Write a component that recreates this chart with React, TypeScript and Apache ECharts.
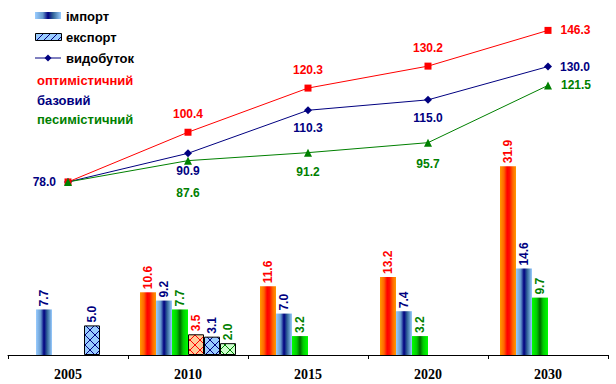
import React, { useEffect, useRef } from "react";
import * as echarts from "echarts";

const categories = ["2005", "2010", "2015", "2020", "2030"];

// Import (bars)
const importOpt = [null, 10.6, 11.6, 13.2, 31.9];
const importBase = [7.7, 9.2, 7.0, 7.4, 14.6];
const importPess = [null, 7.7, 3.2, 3.2, 9.7];
// Export (bars)
const exportOpt = [null, 3.5, null, null, null];
const exportBase = [5.0, 3.1, null, null, null];
const exportPess = [null, 2.0, null, null, null];
// Production (lines)
const prodOpt = [78.0, 100.4, 120.3, 130.2, 146.3];
const prodBase = [78.0, 90.9, 110.3, 115.0, 130.0];
const prodPess = [78.0, 87.6, 91.2, 95.7, 121.5];

const legendItems = ["імпорт", "експорт", "видобуток"];
const scenarioNames = ["оптимістичний", "базовий", "песимістичний"];

const RED = "#FF0000";
const NAVY = "#000080";
const GREEN = "#008000";
const FONT = "'Liberation Sans', Arial, sans-serif";

function hatch(bg: string, fg: string, cross: boolean, size = 10) {
  const c = document.createElement("canvas");
  c.width = size;
  c.height = size;
  const ctx = c.getContext("2d")!;
  ctx.fillStyle = bg;
  ctx.fillRect(0, 0, size, size);
  ctx.strokeStyle = fg;
  ctx.lineWidth = 1;
  ctx.beginPath();
  ctx.moveTo(-1, size + 1);
  ctx.lineTo(size + 1, -1);
  ctx.moveTo(-1, 1);
  ctx.lineTo(1, -1);
  ctx.moveTo(size - 1, size + 1);
  ctx.lineTo(size + 1, size - 1);
  if (cross) {
    ctx.moveTo(-1, -1);
    ctx.lineTo(size + 1, size + 1);
    ctx.moveTo(size - 1, -1);
    ctx.lineTo(size + 1, 1);
    ctx.moveTo(-1, size - 1);
    ctx.lineTo(1, size + 1);
  }
  ctx.stroke();
  return { image: c, repeat: "repeat" } as any;
}

function hGrad(stops: [number, string][]) {
  return new echarts.graphic.LinearGradient(
    0,
    0,
    1,
    0,
    stops.map(([offset, color]) => ({ offset, color }))
  );
}

const orangeGrad = () =>
  hGrad([
    [0, "#FF9900"],
    [0.25, "#FF6600"],
    [0.45, "#FF0000"],
    [0.6, "#FF1100"],
    [0.8, "#FF6600"],
    [1, "#FF9900"],
  ]);
const blueGrad = () =>
  hGrad([
    [0, "#99CCFF"],
    [0.3, "#6699CC"],
    [0.5, "#000080"],
    [0.7, "#336699"],
    [1, "#99CCFF"],
  ]);
const greenGrad = () =>
  hGrad([
    [0, "#00FF00"],
    [0.3, "#00CC00"],
    [0.5, "#006600"],
    [0.7, "#00CC00"],
    [1, "#00FF00"],
  ]);

export default function App() {
  const ref = useRef<HTMLDivElement>(null);

  useEffect(() => {
    if (!ref.current) return;
    const chart = echarts.init(ref.current, undefined, { renderer: "svg" });

    const barLabel = (color: string) => ({
      show: true,
      position: "top",
      rotate: 90,
      align: "left",
      verticalAlign: "middle",
      distance: 3,
      color,
      fontFamily: FONT,
      fontWeight: "bold",
      fontSize: 12,
      formatter: (p: any) => Number(p.value).toFixed(1),
    });

    const bar = (name: string, data: (number | null)[], color: any, labelColor: string, border: boolean) => ({
      name,
      type: "bar",
      yAxisIndex: 0,
      data,
      barGap: "0%",
      barCategoryGap: "20%",
      itemStyle: {
        color,
        borderColor: border ? "#000000" : undefined,
        borderWidth: border ? 1 : 0,
      },
      label: barLabel(labelColor),
      emphasis: { disabled: true },
    });

    const lineData = (
      values: number[],
      color: string,
      labels: ({ position: string; distance: number } | null)[]
    ) =>
      values.map((v, i) => {
        const l = labels[i];
        return {
          value: v,
          label: l
            ? {
                show: true,
                position: l.position,
                distance: l.distance,
                color,
                fontFamily: FONT,
                fontWeight: "bold",
                fontSize: 12,
                formatter: (p: any) => Number(p.value).toFixed(1),
              }
            : { show: false },
        };
      });

    const line = (name: string, data: any[], color: string, symbol: string, size: number) => ({
      name,
      type: "line",
      yAxisIndex: 1,
      data,
      symbol,
      symbolSize: size,
      lineStyle: { color, width: 1 },
      itemStyle: { color },
      z: 5,
      emphasis: { disabled: true },
    });

    const T = (d: number) => ({ position: "top", distance: d });
    const B = (d: number) => ({ position: "bottom", distance: d });
    const R = (d: number) => ({ position: "right", distance: d });
    const L = (d: number) => ({ position: "left", distance: d });

    const legendText = (text: string, x: number, y: number, fill: string) => ({
      type: "text",
      x,
      y,
      style: {
        text,
        fill,
        font: `bold 13px ${FONT}`,
        textVerticalAlign: "middle",
        verticalAlign: "middle",
      },
    });

    chart.setOption({
      animation: false,
      backgroundColor: "#FFFFFF",
      grid: { left: 8, right: 8, top: 0, bottom: 29 },
      xAxis: {
        type: "category",
        data: categories,
        boundaryGap: true,
        axisLine: { lineStyle: { color: "#000000", width: 1 } },
        axisTick: { show: true, length: 4, lineStyle: { color: "#000000" } },
        axisLabel: {
          color: "#000000",
          fontFamily: "'Liberation Serif', 'Times New Roman', serif",
          fontWeight: "bold",
          fontSize: 14,
          margin: 12,
        },
      },
      yAxis: [
        { type: "value", min: 0, max: 60, show: false, splitLine: { show: false } },
        { type: "value", min: 0, max: 160, show: false, splitLine: { show: false } },
      ],
      series: [
        bar("import-opt", importOpt, orangeGrad(), RED, false),
        bar("import-base", importBase, blueGrad(), NAVY, false),
        bar("import-pess", importPess, greenGrad(), GREEN, false),
        bar("export-opt", exportOpt, hatch("#FFCC99", "#FF0000", true), RED, true),
        bar("export-base", exportBase, hatch("#99CCFF", "#000080", true), NAVY, true),
        bar("export-pess", exportPess, hatch("#CCFFCC", "#008000", true), GREEN, true),
        line(
          "prod-base",
          lineData(prodBase, NAVY, [L(8), B(8), B(8), B(8), R(8)]),
          NAVY,
          "diamond",
          8
        ),
        line(
          "prod-opt",
          lineData(prodOpt, RED, [null, T(9), T(9), T(9), R(9)]),
          RED,
          "rect",
          7
        ),
        line(
          "prod-pess",
          lineData(prodPess, GREEN, [null, B(22), B(9), B(11), R(9)]),
          GREEN,
          "triangle",
          8
        ),
      ],
      graphic: [
        {
          type: "rect",
          shape: { x: 35, y: 12, width: 26, height: 7 },
          style: { fill: blueGrad() },
        },
        legendText(legendItems[0], 66, 16, "#000000"),
        {
          type: "rect",
          shape: { x: 35.5, y: 33.5, width: 26, height: 7 },
          style: { fill: hatch("#99CCFF", "#000080", false, 7), stroke: "#000000", lineWidth: 1 },
        },
        legendText(legendItems[1], 66, 37, "#000000"),
        {
          type: "line",
          shape: { x1: 35, y1: 58, x2: 61, y2: 58 },
          style: { stroke: NAVY, lineWidth: 1 },
        },
        {
          type: "polygon",
          shape: { points: [[48, 54.5], [51.5, 58], [48, 61.5], [44.5, 58]] },
          style: { fill: NAVY },
        },
        legendText(legendItems[2], 66, 58, "#000000"),
        legendText(scenarioNames[0], 37, 80, RED),
        legendText(scenarioNames[1], 37, 100, NAVY),
        legendText(scenarioNames[2], 37, 119, GREEN),
      ],
    });

    return () => chart.dispose();
  }, []);

  return (
    <div
      ref={ref}
      style={{ position: "fixed", left: 0, top: 0, width: 616, height: 384, background: "#fff" }}
    />
  );
}
